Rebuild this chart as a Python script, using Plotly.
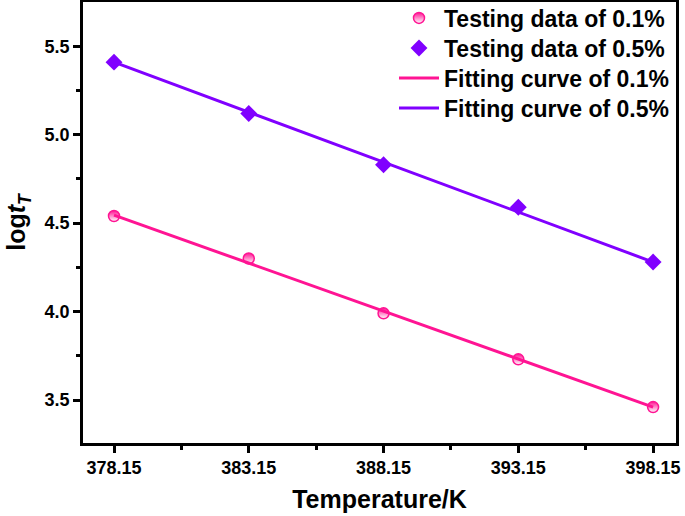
import plotly.graph_objects as go

temperature = [378.15, 383.15, 388.15, 393.15, 398.15]
test_01 = [4.54, 4.30, 3.99, 3.73, 3.46]
test_05 = [5.41, 5.12, 4.83, 4.59, 4.28]
fit_x = [378.15, 398.15]
fit_01 = [4.545, 3.46]
fit_05 = [5.41, 4.28]
x_ticks = [378.15, 383.15, 388.15, 393.15, 398.15]
y_ticks = [3.5, 4.0, 4.5, 5.0, 5.5]

PINK = "#FF1493"
PURPLE = "#8000FF"

fig = go.Figure()
fig.add_trace(go.Scatter(x=temperature, y=test_01, mode="markers", name="Testing data of 0.1%",
                         legend="legend",
                         marker=dict(symbol="circle", size=11, color=PINK,
                                     gradient=dict(type="vertical", color="white"),
                                     line=dict(width=1.5, color=PINK))))
fig.add_trace(go.Scatter(x=temperature, y=test_05, mode="markers", name="Testing data of 0.5%",
                         legend="legend2",
                         marker=dict(symbol="diamond", size=13, color=PURPLE)))
fig.add_trace(go.Scatter(x=fit_x, y=fit_01, mode="lines", name="Fitting curve of 0.1%",
                         legend="legend3",
                         line=dict(color=PINK, width=3)))
fig.add_trace(go.Scatter(x=fit_x, y=fit_05, mode="lines", name="Fitting curve of 0.5%",
                         legend="legend4",
                         line=dict(color=PURPLE, width=3)))

FAM = "Liberation Sans, Arial, sans-serif"
W, H = 685, 516
L, R = 83, 9

def leg(center_px, left_px=394):
    return dict(x=(left_px - L) / (W - L - R), y=1 - center_px / H,
                xanchor="left", yanchor="middle",
                xref="paper", yref="container",
                bgcolor="rgba(0,0,0,0)",
                font=dict(size=23, family=FAM, color="black", weight="bold"),
                itemwidth=40)

fig.update_layout(
    width=W, height=H,
    margin=dict(l=L, r=R, t=2, b=73, autoexpand=False),
    paper_bgcolor="white", plot_bgcolor="white",
    font=dict(family=FAM, color="black"),
    showlegend=True,
    legend=leg(18), legend2=leg(48), legend3=leg(78), legend4=leg(108),
    xaxis=dict(range=[377.0, 399.0], tickvals=x_ticks, ticktext=[f"{v:.2f}" for v in x_ticks],
               ticks="outside", ticklen=7, tickwidth=2.5, tickcolor="black",
               minor=dict(tickvals=[380.65, 385.65, 390.65, 395.65], ticks="outside", ticklen=4, tickwidth=2.5, tickcolor="black"),
               showline=True, linewidth=2.5, linecolor="black", mirror=True,
               showgrid=False, zeroline=False, automargin=False,
               tickfont=dict(size=18, weight="bold"),
               title=dict(text="Temperature/K", font=dict(size=25, weight="bold"), standoff=14)),
    yaxis=dict(range=[3.257, 5.75], tickvals=y_ticks, ticktext=[f"{v:.1f}" for v in y_ticks],
               ticks="outside", ticklen=7, tickwidth=2.5, tickcolor="black",
               minor=dict(tickvals=[3.75, 4.25, 4.75, 5.25], ticks="outside", ticklen=4, tickwidth=2.5, tickcolor="black"),
               showline=True, linewidth=2.5, linecolor="black", mirror=True,
               showgrid=False, zeroline=False, automargin=False,
               tickfont=dict(size=18, weight="bold"),
               title=dict(text="log<i>t</i><sub><i>T</i></sub>", font=dict(size=25, weight="bold"), standoff=12)),
)

fig.write_html("out.html", config={"displayModeBar": False},
               post_script="document.body.style.margin='0px';")
